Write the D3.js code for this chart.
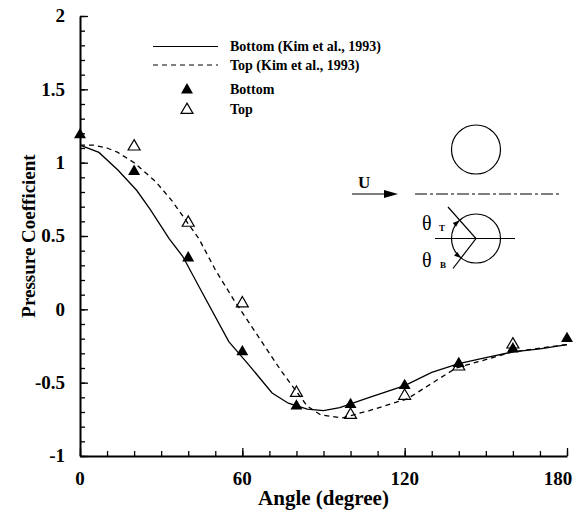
<!DOCTYPE html>
<html>
<head>
<meta charset="utf-8">
<script src="https://cdn.jsdelivr.net/npm/d3@7"></script>
<style>
  body { margin: 0; background: #fff; }
  svg { display: block; font-family: "Liberation Serif", "Times New Roman", serif; }
</style>
</head>
<body>
<div id="chart"><svg></svg></div>
<script>
// Kim et al. (1993) curves
const kimBottomAngle = [0, 7, 14, 21, 26, 33, 38, 45, 55, 62, 71, 77, 84, 90, 96, 107, 120, 130, 140, 150, 160, 170, 180];
const kimBottomCp = [1.12, 1.07, 0.95, 0.81, 0.68, 0.48, 0.36, 0.12, -0.22, -0.37, -0.57, -0.64, -0.68, -0.69, -0.67, -0.60, -0.52, -0.43, -0.37, -0.33, -0.29, -0.27, -0.24];
const kimTopAngle = [0, 5, 10, 14, 20, 28, 34, 44, 50, 57, 65, 74, 84, 89, 97, 107, 121, 139, 160, 180];
const kimTopCp = [1.12, 1.12, 1.10, 1.07, 1.00, 0.87, 0.74, 0.48, 0.27, 0.06, -0.16, -0.41, -0.66, -0.72, -0.74, -0.69, -0.61, -0.40, -0.29, -0.24];

// measured points
const bottomAngle = [0, 20, 40, 60, 80, 100, 120, 140, 160, 180];
const bottomCp = [1.19, 0.94, 0.35, -0.29, -0.66, -0.65, -0.52, -0.37, -0.27, -0.20];
const topAngle = [20, 40, 60, 80, 100, 120, 140, 160];
const topCp = [1.11, 0.59, 0.04, -0.57, -0.72, -0.59, -0.39, -0.24];

const xTicks = [0, 60, 120, 180];
const yTicks = [-1, -0.5, 0, 0.5, 1, 1.5, 2];
const legendLabels = ['Bottom (Kim et al., 1993)', 'Top (Kim et al., 1993)', 'Bottom', 'Top'];

const width = 584;
const height = 520;
const margin = {top: 16, right: 17, bottom: 64, left: 80};

const svg = d3.select('#chart > svg')
  .attr('width', width)
  .attr('height', height);

const x = d3.scaleLinear()
  .domain([0, 180])
  .range([margin.left, width - margin.right]);

const y = d3.scaleLinear()
  .domain([-1, 2])
  .range([height - margin.bottom, margin.top]);

const zip = (a, b) => a.map((d, i) => [d, b[i]]);

// minor ticks
svg.append('g')
  .attr('transform', `translate(0,${y(-1)})`)
  .call(d3.axisBottom(x).tickValues(d3.range(0, 181, 10)).tickSizeInner(-5).tickSizeOuter(0).tickFormat(''))
  .call(g => g.select('.domain').remove());

svg.append('g')
  .attr('transform', `translate(${x(0)},0)`)
  .call(d3.axisLeft(y).tickValues(d3.range(-10, 21).map(d => d / 10)).tickSizeInner(-5).tickSizeOuter(0).tickFormat(''))
  .call(g => g.select('.domain').remove());

// major axes, labels drawn separately below
svg.append('g')
  .attr('transform', `translate(0,${y(-1)})`)
  .call(d3.axisBottom(x).tickValues(xTicks).tickSizeInner(-8).tickSizeOuter(0).tickFormat(''));

svg.append('g')
  .attr('transform', `translate(${x(0)},0)`)
  .call(d3.axisLeft(y).tickValues(yTicks).tickSizeInner(-8).tickSizeOuter(0).tickFormat(''));

svg.selectAll('.domain').attr('stroke-width', 2);
svg.selectAll('.tick line').attr('stroke-width', 1.3);

const tickLabels = svg.append('g')
  .style('font-weight', 'bold')
  .attr('font-size', 19);

tickLabels.selectAll('text.xt')
  .data(xTicks)
  .join('text')
  .attr('class', 'xt')
  .attr('x', d => x(d) - (d === 180 ? 9 : 0))
  .attr('y', 485)
  .attr('text-anchor', 'middle')
  .text(d => String(d));

tickLabels.selectAll('text.yt')
  .data(yTicks)
  .join('text')
  .attr('class', 'yt')
  .attr('x', x(0) - 15)
  .attr('y', d => y(d))
  .attr('dy', '0.33em')
  .attr('text-anchor', 'end')
  .text(d => String(d));

// axis titles
svg.append('text')
  .attr('x', (x(0) + x(180)) / 2)
  .attr('y', 505)
  .attr('text-anchor', 'middle')
  .style('font-weight', 'bold')
  .attr('font-size', 21)
  .text('Angle (degree)');

svg.append('text')
  .attr('transform', `translate(35,${(y(-1) + y(2)) / 2}) rotate(-90)`)
  .attr('text-anchor', 'middle')
  .style('font-weight', 'bold')
  .attr('font-size', 19)
  .text('Pressure Coefficient');

// curves
const line = d3.line()
  .x(d => x(d[0]))
  .y(d => y(d[1]));

svg.append('path')
  .datum(zip(kimBottomAngle, kimBottomCp))
  .attr('d', line)
  .attr('fill', 'none')
  .attr('stroke', '#000')
  .attr('stroke-width', 1.3);

svg.append('path')
  .datum(zip(kimTopAngle, kimTopCp))
  .attr('d', line)
  .attr('fill', 'none')
  .attr('stroke', '#000')
  .attr('stroke-width', 1.3)
  .attr('stroke-dasharray', '5,4');

// markers
const tri = d3.symbol(d3.symbolTriangle, 62);

svg.append('g')
  .selectAll('path')
  .data(zip(topAngle, topCp))
  .join('path')
  .attr('d', tri)
  .attr('transform', d => `translate(${x(d[0])},${y(d[1])})`)
  .attr('fill', 'none')
  .attr('stroke', '#000')
  .attr('stroke-width', 1.2);

svg.append('g')
  .selectAll('path')
  .data(zip(bottomAngle, bottomCp))
  .join('path')
  .attr('d', tri)
  .attr('transform', d => `translate(${x(d[0])},${y(d[1])})`)
  .attr('fill', '#000');

// legend
const legend = svg.append('g')
  .style('font-weight', 'bold')
  .attr('font-size', 14);

const legendRows = [50.7, 69.7, 94, 114];

legend.selectAll('text')
  .data(legendLabels)
  .join('text')
  .attr('x', 230)
  .attr('y', (d, i) => legendRows[i])
  .text(d => d);

legend.append('line')
  .attr('x1', 153).attr('x2', 218)
  .attr('y1', 46.5).attr('y2', 46.5)
  .attr('stroke', '#000').attr('stroke-width', 1.2);

legend.append('line')
  .attr('x1', 153).attr('x2', 218)
  .attr('y1', 65).attr('y2', 65)
  .attr('stroke', '#000').attr('stroke-width', 1.2)
  .attr('stroke-dasharray', '5,4');

legend.append('path')
  .attr('d', tri)
  .attr('transform', 'translate(187,90)')
  .attr('fill', '#000');

legend.append('path')
  .attr('d', tri)
  .attr('transform', 'translate(187,110)')
  .attr('fill', 'none')
  .attr('stroke', '#000')
  .attr('stroke-width', 1.2);

// inset sketch of the two cylinders
const inset = svg.append('g')
  .attr('fill', 'none')
  .attr('stroke', '#000')
  .attr('stroke-width', 1.2);

const cx = 476, cyTop = 149.5, cyBot = 238.5, r = 24.5;

inset.append('circle').attr('cx', cx).attr('cy', cyTop).attr('r', r);
inset.append('circle').attr('cx', cx).attr('cy', cyBot).attr('r', r);

inset.append('line')
  .attr('x1', 415).attr('x2', 561)
  .attr('y1', 194).attr('y2', 194)
  .attr('stroke-dasharray', '12,3,3,3');

inset.append('line')
  .attr('x1', 435).attr('x2', 515)
  .attr('y1', cyBot).attr('y2', cyBot);

inset.append('polyline')
  .attr('points', `448,207 ${cx},${cyBot} 453,268.5`);

// small arrowheads on the circle
const arrowHead = (ang, dir) => {
  const a = ang * Math.PI / 180;
  const px = cx + r * Math.cos(a), py = cyBot - r * Math.sin(a);
  const tx = -Math.sin(a) * dir, ty = -Math.cos(a) * dir;
  const nx = Math.cos(a), ny = -Math.sin(a);
  const len = 7, w = 2.5;
  const bx = px - tx * len, by = py - ty * len;
  return `${px},${py} ${bx + nx * w},${by + ny * w} ${bx - nx * w},${by - ny * w}`;
};

svg.append('polygon')
  .attr('points', arrowHead(132, -1))
  .attr('fill', '#000');
svg.append('polygon')
  .attr('points', arrowHead(-127, 1))
  .attr('fill', '#000');

// theta labels
const theta = svg.append('g').attr('fill', '#000');
theta.append('text').attr('x', 422).attr('y', 229.5).attr('font-size', 20).text('θ');
theta.append('text').attr('x', 439).attr('y', 231).attr('font-size', 9).style('font-weight', 'bold').text('T');
theta.append('text').attr('x', 422).attr('y', 266.5).attr('font-size', 20).text('θ');
theta.append('text').attr('x', 440).attr('y', 267.5).attr('font-size', 9).style('font-weight', 'bold').text('B');

// free stream arrow
svg.append('text')
  .attr('x', 358).attr('y', 188)
  .attr('font-size', 17)
  .style('font-weight', 'bold')
  .text('U');

svg.append('line')
  .attr('x1', 352).attr('x2', 388)
  .attr('y1', 194).attr('y2', 194)
  .attr('stroke', '#000').attr('stroke-width', 1.2);

svg.append('polygon')
  .attr('points', '398,194 384,190 384,198')
  .attr('fill', '#000');
</script>
</body>
</html>
